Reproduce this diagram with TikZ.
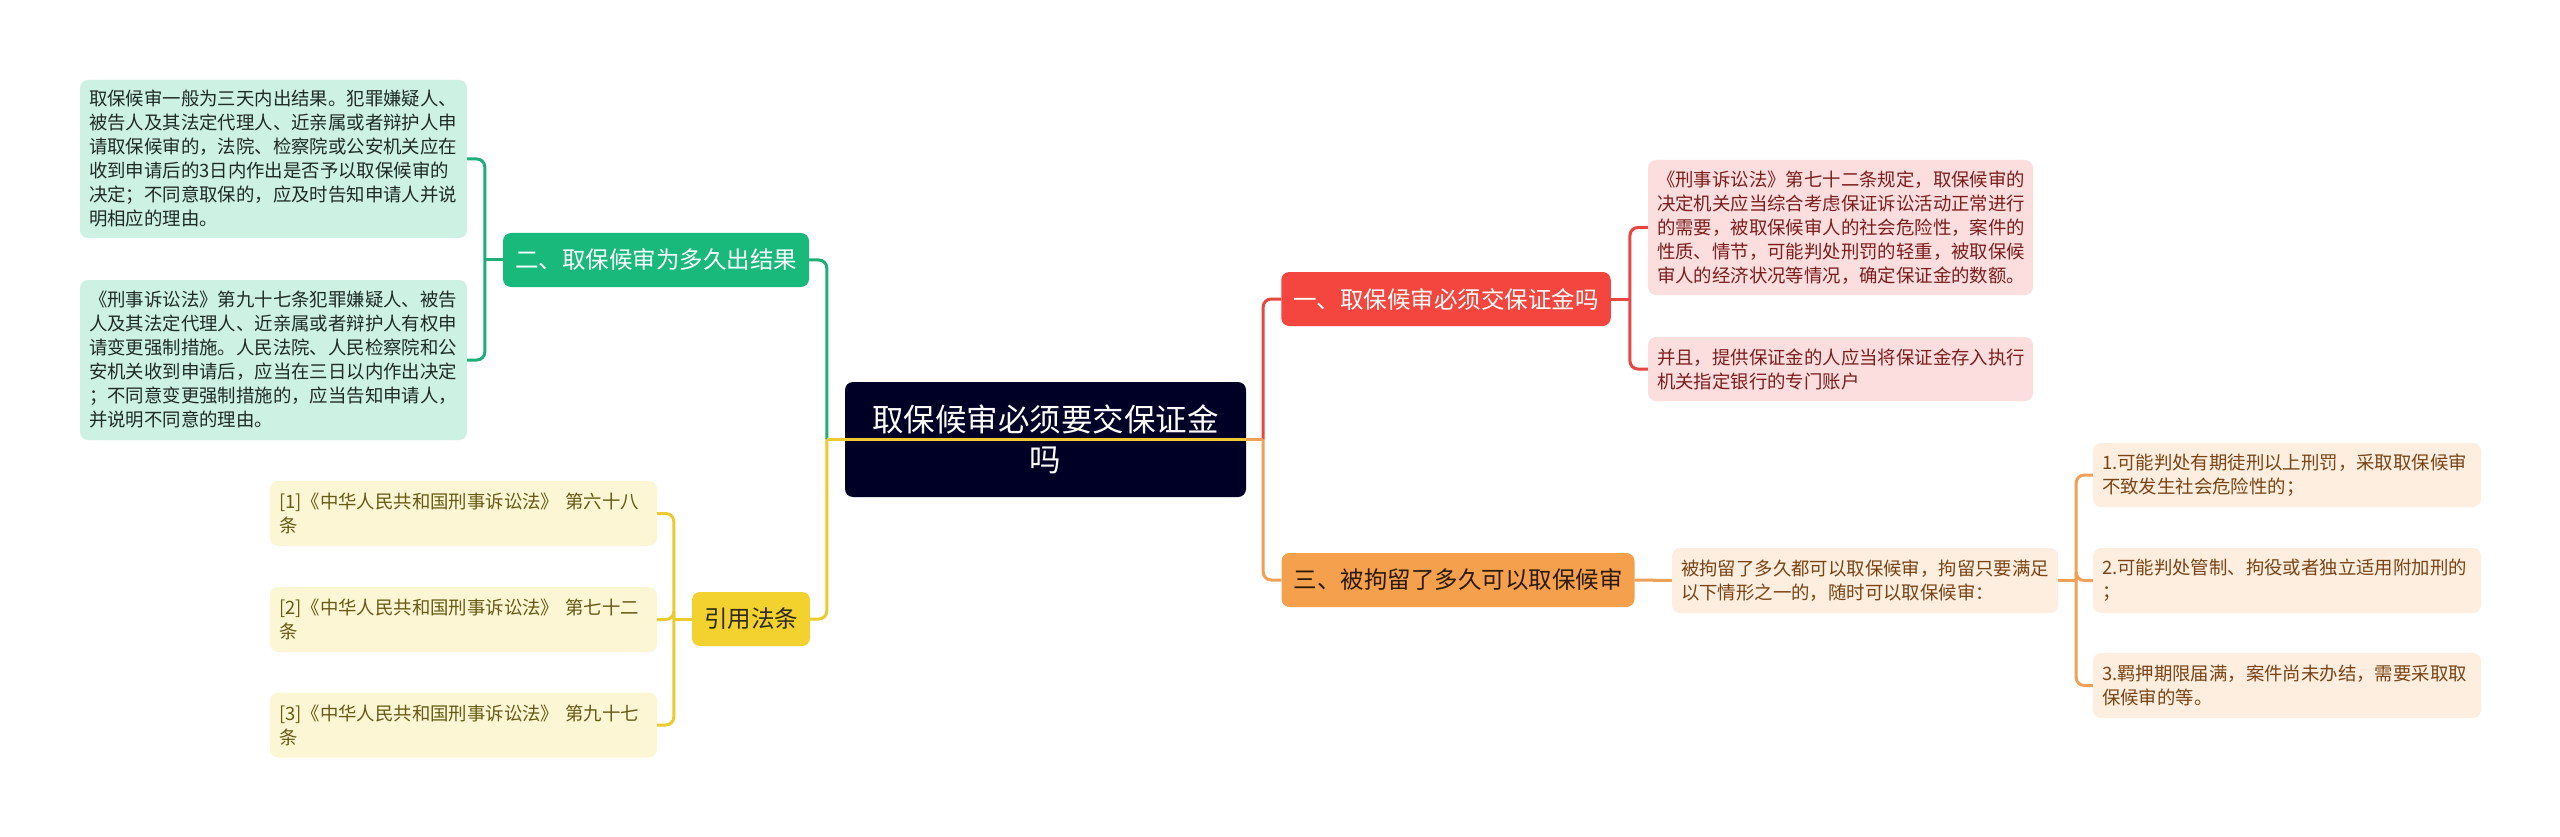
\documentclass[tikz,border=0pt]{standalone}
\usepackage{fontspec}
\setmainfont{Noto Sans CJK SC}
\definecolor{rootfill}{HTML}{000026}
\definecolor{gmainfill}{HTML}{18B97A}
\definecolor{gline}{HTML}{1FAE78}
\definecolor{gchildfill}{HTML}{CDF1E3}
\definecolor{gtext}{HTML}{1E2B26}
\definecolor{ymainfill}{HTML}{F3D12E}
\definecolor{ymaintext}{HTML}{2E2A10}
\definecolor{yline}{HTML}{EDCB30}
\definecolor{ychildfill}{HTML}{FDF6D4}
\definecolor{ytext}{HTML}{665A14}
\definecolor{rmainfill}{HTML}{F4463E}
\definecolor{rline}{HTML}{E84640}
\definecolor{rchildfill}{HTML}{FDDEDE}
\definecolor{rtext}{HTML}{7B1E1E}
\definecolor{omainfill}{HTML}{F5A04C}
\definecolor{omaintext}{HTML}{2B1A0A}
\definecolor{oline}{HTML}{EFA157}
\definecolor{ochildfill}{HTML}{FDEEE0}
\definecolor{otext}{HTML}{7A4414}
\begin{document}
\begin{tikzpicture}[x=1pt,y=-1pt,
  mainbox/.style={rounded corners=8pt, inner xsep=12pt, inner ysep=0pt, minimum height=54pt,
    font=\fontsize{23.5}{28}\selectfont, anchor=center},
  smallbox/.style={rounded corners=8pt, inner xsep=9pt, inner ysep=0pt, align=left,
    font=\fontsize{18.4}{24}\selectfont, anchor=center},
  gmain/.style={mainbox, fill=gmainfill, text=white},
  gchild/.style={smallbox, fill=gchildfill, text=gtext, text width=369pt},
  ymain/.style={mainbox, fill=ymainfill, text=ymaintext},
  ychild/.style={smallbox, fill=ychildfill, text=ytext, text width=369pt, minimum height=65pt},
  rmain/.style={mainbox, fill=rmainfill, text=white},
  rchild/.style={smallbox, fill=rchildfill, text=rtext, text width=367pt},
  omain/.style={mainbox, fill=omainfill, text=omaintext},
  ochild/.style={smallbox, fill=ochildfill, text=otext, text width=369pt, minimum height=65pt},
  conn/.style={line width=3pt, rounded corners=8pt}]
\useasboundingbox (0,0) rectangle (2560,837);
\fill[white] (0,0) rectangle (2560,837);

% root
\node[rounded corners=8pt, fill=rootfill, text=white, minimum width=401pt, minimum height=115pt,
  align=center, inner sep=0pt, font=\fontsize{31.5}{40}\selectfont] (root) at (1045.5,439.5)
  {取保候审必须要交保证金\\吗};

% green branch
\node[gmain] (g) at (656,260) {二、取保候审为多久出结果};
\node[gchild, minimum height=158pt] (g1) at (273.5,159) {取保候审一般为三天内出结果。犯罪嫌疑人、\\被告人及其法定代理人、近亲属或者辩护人申\\请取保候审的，法院、检察院或公安机关应在\\收到申请后的3日内作出是否予以取保候审的\\决定；不同意取保的，应及时告知申请人并说\\明相应的理由。};
\node[gchild, minimum height=160pt] (g2) at (273.5,360) {《刑事诉讼法》第九十七条犯罪嫌疑人、被告\\人及其法定代理人、近亲属或者辩护人有权申\\请变更强制措施。人民法院、人民检察院和公\\安机关收到申请后，应当在三日以内作出决定\\；不同意变更强制措施的，应当告知申请人，\\并说明不同意的理由。};

% yellow branch
\node[ymain] (y) at (751,619) {引用法条};
\node[ychild] (y1) at (463.5,513.5) {[1]《中华人民共和国刑事诉讼法》~第六十八\\条};
\node[ychild] (y2) at (463.5,619.5) {[2]《中华人民共和国刑事诉讼法》~第七十二\\条};
\node[ychild] (y3) at (463.5,725) {[3]《中华人民共和国刑事诉讼法》~第九十七\\条};

% red branch
\node[rmain] (r) at (1446,299) {一、取保候审必须交保证金吗};
\node[rchild, minimum height=135pt] (r1) at (1840.5,227.5) {《刑事诉讼法》第七十二条规定，取保候审的\\决定机关应当综合考虑保证诉讼活动正常进行\\的需要，被取保候审人的社会危险性，案件的\\性质、情节，可能判处刑罚的轻重，被取保候\\审人的经济状况等情况，确定保证金的数额。};
\node[rchild, minimum height=64pt] (r2) at (1840.5,369) {并且，提供保证金的人应当将保证金存入执行\\机关指定银行的专门账户};

% orange branch
\node[omain] (o) at (1458,580) {三、被拘留了多久可以取保候审};
\node[ochild, text width=368pt] (o1) at (1865,580.5) {被拘留了多久都可以取保候审，拘留只要满足\\以下情形之一的，随时可以取保候审：};
\node[ochild, text width=370pt, minimum height=64pt] (o11) at (2287,475) {1.可能判处有期徒刑以上刑罚，采取取保候审\\不致发生社会危险性的；};
\node[ochild, text width=370pt] (o12) at (2287,580.5) {2.可能判处管制、拘役或者独立适用附加刑的\\；};
\node[ochild, text width=370pt] (o13) at (2287,685.5) {3.羁押期限届满，案件尚未办结，需要采取取\\保候审的等。};

% junctions
\coordinate (jl) at ([xshift=-18pt]root.west);
\coordinate (jr) at ([xshift=17pt]root.east);
\coordinate (jg) at ([xshift=-18pt]g.west);
\coordinate (jy) at ([xshift=-18pt]y.west);
\coordinate (jr1) at ([xshift=19pt]r.east);
\coordinate (jo) at ([xshift=18pt]o1.east);

% root connectors
\draw[conn, gline] (g.east) -| (jl);
\draw[conn, yline] (y.east) -| (jl);
\draw[conn, rline] (r.west) -| (jr);
\draw[conn, oline] (o.west) -| (jr);
\draw[conn, yline] (jl) -- (root.east);
\draw[conn, oline] (root.east) -- (jr);

% green children
\draw[conn, gline] (g.west) -- (jg);
\draw[conn, gline] (jg) |- (g1.east);
\draw[conn, gline] (jg) |- (g2.east);

% yellow children
\draw[conn, yline] (y.west) -- (jy);
\draw[conn, yline] (jy) |- (y1.east);
\draw[conn, yline] (jy) |- (y2.east);
\draw[conn, yline] (jy) |- (y3.east);

% red children
\draw[conn, rline] (r.east) -- (jr1);
\draw[conn, rline] (jr1) |- (r1.west);
\draw[conn, rline] (jr1) |- (r2.west);

% orange children
\draw[conn, oline] (o.east) -- (o1.west);
\draw[conn, oline] (o1.east) -- (jo);
\draw[conn, oline] (jo) |- (o11.west);
\draw[conn, oline] (jo) |- (o12.west);
\draw[conn, oline] (jo) |- (o13.west);
\end{tikzpicture}
\end{document}
